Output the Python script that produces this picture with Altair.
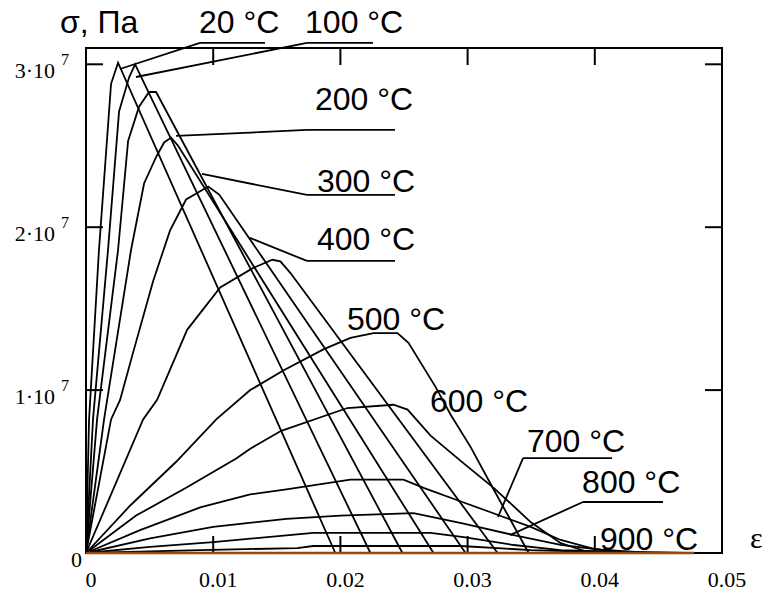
import altair as alt
import pandas as pd

# ---- curves: strain ε and stress σ (in units of 1e7 Pa) ----
eps_c1 = [0, 0.00024, 0.00102, 0.00197, 0.00252, 0.0196]
sig_c1 = [0, 0.82, 1.86, 2.88, 3.01, 0]

eps_c2 = [0, 0.00055, 0.00173, 0.0026, 0.00339, 0.00386, 0.02236]
sig_c2 = [0, 0.82, 1.86, 2.71, 2.92, 3.0, 0]

eps_c3 = [0, 0.00087, 0.00252, 0.00331, 0.00417, 0.00496, 0.00551, 0.02488]
sig_c3 = [0, 0.82, 1.86, 2.53, 2.74, 2.83, 2.83, 0]

eps_c4 = [0, 0.00142, 0.00354, 0.00457, 0.00551, 0.00614, 0.00669, 0.00724, 0.02732]
sig_c4 = [0, 0.82, 1.86, 2.27, 2.43, 2.52, 2.55, 2.50, 0]

eps_c5 = [0, 0.00197, 0.00268, 0.0037, 0.00528, 0.00661, 0.00787, 0.00961, 0.01047, 0.02984]
sig_c5 = [0, 0.82, 0.94, 1.23, 1.67, 1.98, 2.17, 2.25, 2.20, 0]

eps_c6 = [0, 0.00449, 0.00559, 0.00795, 0.01055, 0.01315, 0.01465, 0.01528, 0.01606, 0.03236]
sig_c6 = [0, 0.82, 0.94, 1.37, 1.63, 1.75, 1.80, 1.79, 1.72, 0]

eps_c7 = [0, 0.00346, 0.00709, 0.01024, 0.01291, 0.01551, 0.01866, 0.02079, 0.0226, 0.02449,
          0.02535, 0.02748, 0.02866, 0.03024, 0.03205, 0.0348]
sig_c7 = [0, 0.29, 0.56, 0.82, 1.0, 1.12, 1.25, 1.32, 1.35, 1.35,
          1.29, 1.02, 0.85, 0.65, 0.39, 0]

eps_c8 = [0, 0.00394, 0.00787, 0.01181, 0.01291, 0.01535, 0.02055, 0.02417, 0.02528, 0.02709,
          0.02969, 0.03205, 0.03496, 0.03732, 0.03969]
sig_c8 = [0, 0.23, 0.40, 0.58, 0.64, 0.75, 0.89, 0.91, 0.88, 0.72,
          0.55, 0.40, 0.19, 0.06, 0]

eps_c9 = [0, 0.00425, 0.00898, 0.01291, 0.01575, 0.02079, 0.02496, 0.02654, 0.02969, 0.03181,
          0.03496, 0.03732, 0.03992, 0.04283]
sig_c9 = [0, 0.14, 0.28, 0.36, 0.39, 0.45, 0.45, 0.40, 0.31, 0.25,
          0.16, 0.08, 0.025, 0]

eps_c10 = [0, 0.00504, 0.01, 0.01575, 0.02, 0.02575, 0.02969, 0.03362, 0.03732, 0.04047, 0.04441]
sig_c10 = [0, 0.09, 0.16, 0.21, 0.23, 0.245, 0.18, 0.11, 0.05, 0.02, 0]

eps_c11 = [0, 0.00504, 0.01, 0.01787, 0.02709, 0.02969, 0.03362, 0.03732, 0.04205, 0.04677]
sig_c11 = [0, 0.037, 0.067, 0.123, 0.123, 0.098, 0.049, 0.018, 0.006, 0]

eps_c12 = [0, 0.009, 0.0166, 0.01787, 0.02945, 0.03496, 0.04047, 0.04756]
sig_c12 = [0, 0.018, 0.03, 0.043, 0.043, 0.018, 0.006, 0]

eps_zero = [0, 0.0478]
sig_zero = [0, 0]

# ---- temperature labels ----
temp_labels = ["σ, Па", "20 °C", "100 °C", "200 °C", "300 °C", "400 °C",
               "500 °C", "600 °C", "700 °C", "800 °C", "900 °C"]
temp_eps = [-0.00204, 0.00888, 0.01722, 0.018, 0.01816, 0.01816,
            0.02052, 0.02704, 0.03467, 0.039, 0.04041]
temp_sig = [3.19, 3.19, 3.19, 2.718, 2.215, 1.859,
            1.368, 0.865, 0.62, 0.368, 0.018]

# ---- underlines and leader lines (segments) ----
seg_eps1 = [0.00896, 0.00896, 0.01737, 0.01737, 0.01737, 0.01737, 0.01737, 0.01737,
            0.01737, 0.01737, 0.03436, 0.03436, 0.03907, 0.03907]
seg_sig1 = [3.131, 3.131, 3.131, 3.131, 2.597, 2.597, 2.198, 2.198,
            1.793, 1.793, 0.583, 0.583, 0.313, 0.313]
seg_eps2 = [0.01407, 0.00267, 0.02256, 0.00393, 0.02429, 0.00708, 0.02429, 0.00912,
            0.02429, 0.01289, 0.04135, 0.03239, 0.04536, 0.03333]
seg_sig2 = [3.131, 2.971, 3.131, 2.922, 2.597, 2.560, 2.198, 2.327,
            1.793, 1.934, 0.583, 0.221, 0.313, 0.110]

# ---- axis ticks and labels ----
x_ticks = [0.01, 0.02, 0.03, 0.04]
y_ticks = [1, 2, 3]
x_label_vals = [0, 0.01, 0.02, 0.03, 0.04, 0.05]
x_label_text = ["0", "0.01", "0.02", "0.03", "0.04", "0.05"]
y_label_vals = [1, 2, 3]
y_label_text = ["1·10", "2·10", "3·10"]
y_exp_text = ["7", "7", "7"]

curves = [eps_c1, eps_c2, eps_c3, eps_c4, eps_c5, eps_c6, eps_c7, eps_c8, eps_c9, eps_c10, eps_c11, eps_c12]
sigs = [sig_c1, sig_c2, sig_c3, sig_c4, sig_c5, sig_c6, sig_c7, sig_c8, sig_c9, sig_c10, sig_c11, sig_c12]

rows = []
for k, (es, ss) in enumerate(zip(curves, sigs)):
    for i, (e, s) in enumerate(zip(es, ss)):
        rows.append({"curve": f"c{k}", "eps": e, "sig": s, "i": i})
df_curves = pd.DataFrame(rows)
df_zero = pd.DataFrame({"eps": eps_zero, "sig": sig_zero, "i": [0, 1]})

xs = alt.Scale(domain=[0, 0.05], nice=False, zero=False)
ys = alt.Scale(domain=[0, 3.1], nice=False, zero=False)

def X(f):
    return alt.X(f, scale=xs, axis=None)

def Y(f):
    return alt.Y(f, scale=ys, axis=None)

lines = alt.Chart(df_curves).mark_line(color="black", strokeWidth=1.8).encode(
    x=X("eps:Q"), y=Y("sig:Q"), detail="curve:N", order="i:Q")

zero_line = alt.Chart(df_zero).mark_line(color="#9A4A0A", strokeWidth=2.5).encode(
    x=X("eps:Q"), y=Y("sig:Q"), order="i:Q")

segs = alt.Chart(pd.DataFrame({"e1": seg_eps1, "s1": seg_sig1, "e2": seg_eps2, "s2": seg_sig2})).mark_rule(
    color="black", strokeWidth=1.8).encode(x=X("e1:Q"), y=Y("s1:Q"), x2="e2:Q", y2="s2:Q")

temps = alt.Chart(pd.DataFrame({"t": temp_labels, "e": temp_eps, "s": temp_sig})).mark_text(
    align="left", baseline="alphabetic", font="Liberation Sans", fontSize=32, color="black").encode(
    x=X("e:Q"), y=Y("s:Q"), text="t:N")

eps_sym = alt.Chart(pd.DataFrame({"t": ["ε"], "e": [0.0522], "s": [0.031]})).mark_text(
    align="left", baseline="alphabetic", font="Liberation Serif", fontSize=30, color="black").encode(
    x=X("e:Q"), y=Y("s:Q"), text="t:N")

df_xt = pd.DataFrame({"t": x_ticks})
df_yt = pd.DataFrame({"t": y_ticks})
tick_b = alt.Chart(df_xt).mark_rule(color="black", strokeWidth=2).encode(
    x=X("t:Q"), y=alt.value(488), y2=alt.value(505))
tick_t = alt.Chart(df_xt).mark_rule(color="black", strokeWidth=2).encode(
    x=X("t:Q"), y=alt.value(0), y2=alt.value(17))
tick_l = alt.Chart(df_yt).mark_rule(color="black", strokeWidth=2).encode(
    y=Y("t:Q"), x=alt.value(0), x2=alt.value(17))
tick_r = alt.Chart(df_yt).mark_rule(color="black", strokeWidth=2).encode(
    y=Y("t:Q"), x=alt.value(619), x2=alt.value(636))

xlab = alt.Chart(pd.DataFrame({"v": x_label_vals, "t": x_label_text})).mark_text(
    align="center", baseline="alphabetic", font="Liberation Serif", fontSize=22, color="black", dx=5).encode(
    x=X("v:Q"), y=alt.value(539), text="t:N")

ylab = alt.Chart(pd.DataFrame({"v": y_label_vals, "t": y_label_text})).mark_text(
    align="right", baseline="alphabetic", font="Liberation Serif", fontSize=22, color="black", dy=14).encode(
    y=Y("v:Q"), x=alt.value(-31), text="t:N")

yexp = alt.Chart(pd.DataFrame({"v": y_label_vals, "t": y_exp_text})).mark_text(
    align="left", baseline="alphabetic", font="Liberation Serif", fontSize=16, color="black", dy=1).encode(
    y=Y("v:Q"), x=alt.value(-25), text="t:N")

ylab0 = alt.Chart(pd.DataFrame({"v": [0], "t": ["0"]})).mark_text(
    align="right", baseline="alphabetic", font="Liberation Serif", fontSize=22, color="black", dy=14).encode(
    y=Y("v:Q"), x=alt.value(-4), text="t:N")

chart = alt.layer(
    lines, segs, tick_b, tick_t, tick_l, tick_r, zero_line, temps, eps_sym, xlab, ylab, yexp, ylab0
).properties(
    width=636, height=505,
    autosize=alt.AutoSizeParams(type="none"),
    padding={"left": 86, "top": 48, "right": 47, "bottom": 41},
    background="white",
).configure_view(stroke="black", strokeWidth=2)

chart.save("out.html", embed_options={"renderer": "svg", "actions": False})
